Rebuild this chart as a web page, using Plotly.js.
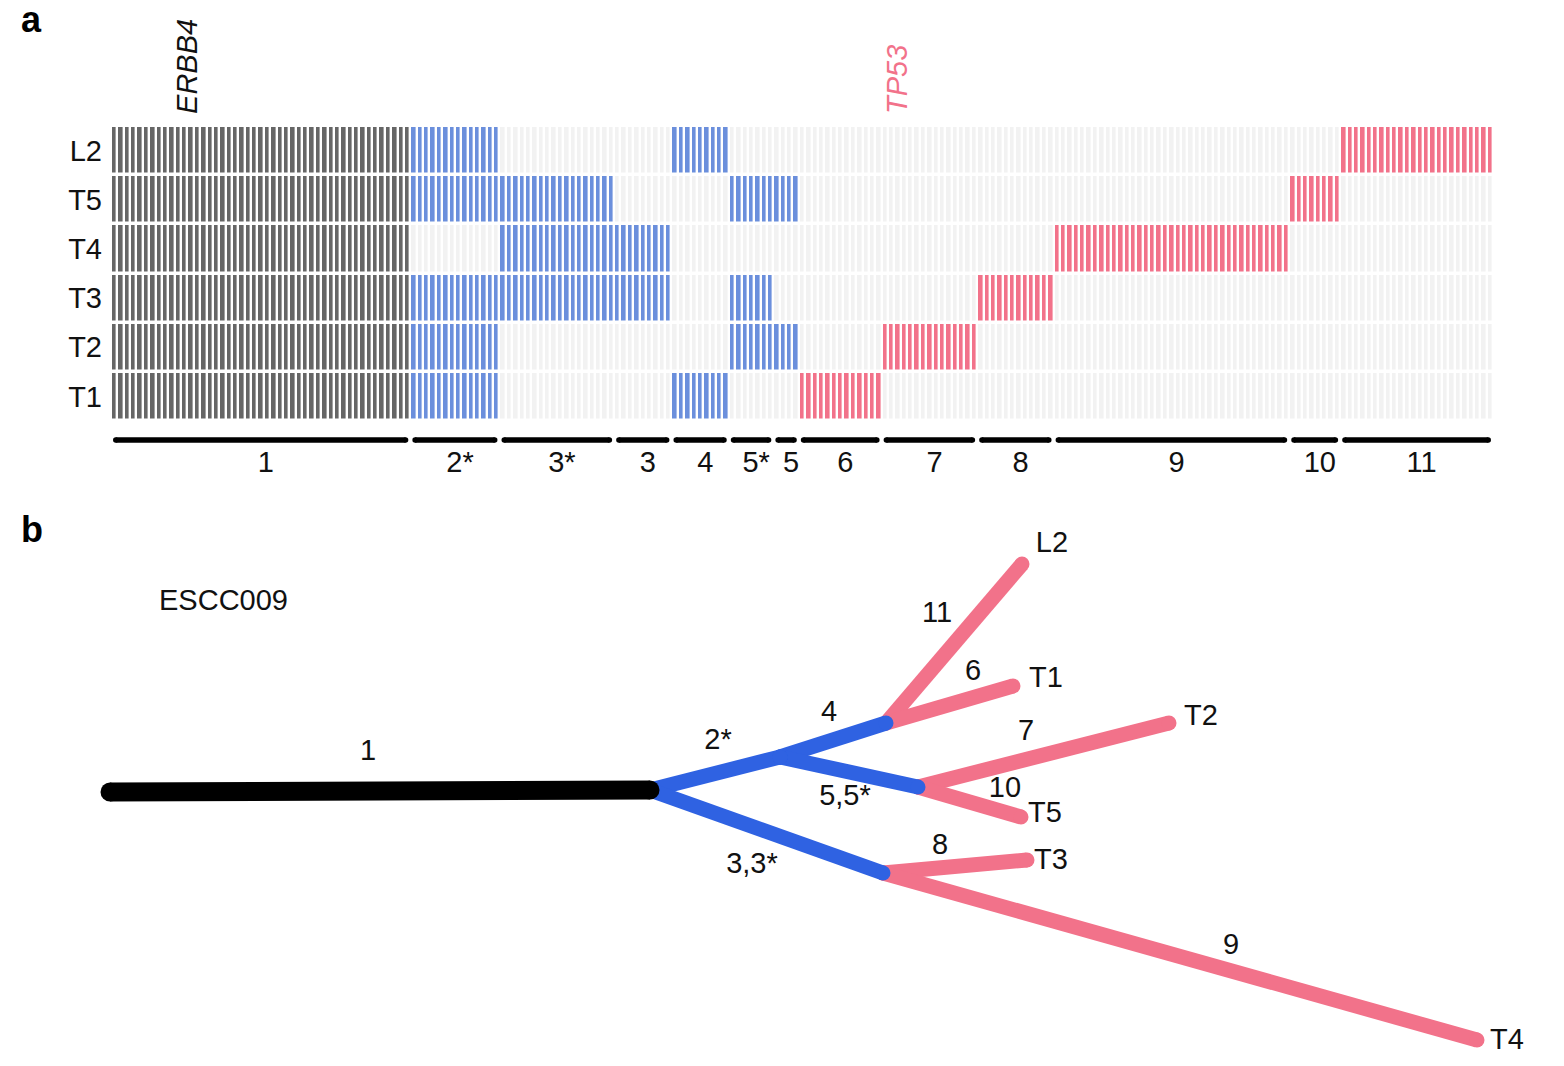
<!DOCTYPE html>
<html>
<head>
<meta charset="utf-8">
<script src="https://cdn.plot.ly/plotly-3.0.1.min.js"></script>
<style>html,body{margin:0;padding:0;background:#fff;}#chart{width:1564px;height:1066px;}</style>
</head>
<body>
<div id="chart"></div>
<script>
// ---------- DATA: panel a ----------
const samples = ['L2', 'T5', 'T4', 'T3', 'T2', 'T1'];
const groupNames = ['1', '2*', '3*', '3', '4', '5*', '5', '6', '7', '8', '9', '10', '11'];
const groupSizes = [47, 14, 18, 9, 9, 7, 4, 13, 15, 12, 37, 8, 24];
// 1 = trunk (grey), 2 = branch (blue), 3 = private (pink)
const groupClass = [1, 2, 2, 2, 2, 2, 2, 3, 3, 3, 3, 3, 3];
const sampleGroups = {
  L2: ['1', '2*', '4', '11'],
  T5: ['1', '2*', '3*', '5*', '5', '10'],
  T4: ['1', '3*', '3', '9'],
  T3: ['1', '2*', '3*', '3', '5*', '8'],
  T2: ['1', '2*', '5*', '5', '7'],
  T1: ['1', '2*', '4', '6']
};
const geneNames = ['ERBB4', 'TP53'];
const geneColumns = [11.5, 123];
const geneColors = ['#111111', '#f2728a'];

// ---------- DATA: panel b (tree) ----------
const patientId = 'ESCC009';
const nodeNames = ['root', 'n1', 'n2', 'n4', 'n5', 'n3', 'L2', 'T1', 'T2', 'T5', 'T3', 'T4'];
const nodeX = [110, 650, 780, 886, 918, 883, 1022, 1013, 1169, 1021, 1027, 1477];
const nodeY = [792, 790, 757, 723, 787, 873, 564, 686, 723, 817, 860, 1040];
const branchFrom = ['root', 'n1', 'n2', 'n2', 'n1', 'n4', 'n4', 'n5', 'n5', 'n3', 'n3'];
const branchTo = ['n1', 'n2', 'n4', 'n5', 'n3', 'L2', 'T1', 'T2', 'T5', 'T3', 'T4'];
const branchKind = ['trunk', 'branch', 'branch', 'branch', 'branch', 'private', 'private', 'private', 'private', 'private', 'private'];
const branchLabels = ['1', '2*', '4', '5,5*', '3,3*', '11', '6', '7', '10', '8', '9'];
const branchLabelX = [368, 718, 829, 845, 752, 937, 973, 1026, 1005, 940, 1231];
const branchLabelY = [753, 742, 714, 798, 866, 615, 673, 733, 790, 847, 947];
const leafNames = ['L2', 'T1', 'T2', 'T5', 'T3', 'T4'];
const leafLabelX = [1052, 1046, 1201, 1045, 1051, 1507];
const leafLabelY = [545, 680, 718, 815, 862, 1042];

// ---------- STYLE ----------
const FONT = 'Liberation Sans, Arial, Helvetica, sans-serif';
const FS = 29;
const heatColors = ['#f2f2f2', '#666666', '#6b8fdc', '#f2728a'];
const treeStyle = {
  trunk: {color: '#000000', width: 19},
  branch: {color: '#2f62e2', width: 15},
  private: {color: '#f2728a', width: 15}
};

// ---------- build heatmap ----------
const nCols = groupSizes.reduce((a, b) => a + b, 0);
const groupStart = [];
let acc = 0;
groupSizes.forEach(s => { groupStart.push(acc); acc += s; });
const colIdx = Array.from({length: nCols}, (_, i) => i);
const z = samples.map(s => {
  const row = [];
  groupNames.forEach((g, gi) => {
    const has = sampleGroups[s].includes(g);
    for (let k = 0; k < groupSizes[gi]; k++) row.push(has ? groupClass[gi] : 0);
  });
  return row;
});

const traces = [];
traces.push({
  type: 'heatmap', x: colIdx, y: samples, z: z,
  xaxis: 'x', yaxis: 'y',
  zmin: 0, zmax: 3,
  colorscale: [[0, heatColors[0]], [1/3, heatColors[1]], [2/3, heatColors[2]], [1, heatColors[3]]],
  showscale: false, xgap: 2.4, ygap: 3.5, hoverinfo: 'skip'
});

// group bars under heatmap (on a dedicated y axis y3 sharing the heatmap x axis)
const barX = [], barY = [];
groupSizes.forEach((s, gi) => {
  const a = groupStart[gi], b = groupStart[gi] + s - 1;
  barX.push(a + 0.25, b - 0.25, null);
  barY.push(1, 1, null);
});
traces.push({
  type: 'scatter', mode: 'lines+markers', x: barX, y: barY, xaxis: 'x', yaxis: 'y3',
  line: {color: '#000', width: 5.5}, marker: {color: '#000', size: 5.5, line: {width: 0}},
  hoverinfo: 'skip', cliponaxis: false, showlegend: false
});
traces.push({
  type: 'scatter', mode: 'text',
  x: groupSizes.map((s, gi) => groupStart[gi] + (s - 1) / 2 + 0.8),
  y: groupSizes.map(() => 0),
  text: groupNames, xaxis: 'x', yaxis: 'y3',
  textfont: {family: FONT, size: FS, color: '#111'},
  textposition: 'middle center', hoverinfo: 'skip', cliponaxis: false, showlegend: false
});

// ---------- build tree ----------
const nodeIndex = n => nodeNames.indexOf(n);
['private', 'branch', 'trunk'].forEach(kind => {
  const xs = [], ys = [];
  branchKind.forEach((k, i) => {
    if (k !== kind) return;
    const a = nodeIndex(branchFrom[i]), b = nodeIndex(branchTo[i]);
    xs.push(nodeX[a], nodeX[b], null);
    ys.push(nodeY[a], nodeY[b], null);
  });
  traces.push({
    type: 'scatter', mode: 'lines+markers', x: xs, y: ys, xaxis: 'x2', yaxis: 'y2',
    line: {color: treeStyle[kind].color, width: treeStyle[kind].width},
    marker: {color: treeStyle[kind].color, size: treeStyle[kind].width, line: {width: 0}},
    hoverinfo: 'skip', cliponaxis: false, showlegend: false
  });
});
traces.push({
  type: 'scatter', mode: 'text', x: branchLabelX, y: branchLabelY, text: branchLabels,
  xaxis: 'x2', yaxis: 'y2', textfont: {family: FONT, size: FS, color: '#111'},
  textposition: 'middle center', hoverinfo: 'skip', cliponaxis: false, showlegend: false
});
traces.push({
  type: 'scatter', mode: 'text', x: leafLabelX, y: leafLabelY, text: leafNames,
  xaxis: 'x2', yaxis: 'y2', textfont: {family: FONT, size: FS, color: '#111'},
  textposition: 'middle center', hoverinfo: 'skip', cliponaxis: false, showlegend: false
});

// ---------- layout ----------
const W = 1564, H = 1066;
const annotations = [
  {text: '<b>a</b>', xref: 'paper', yref: 'paper', x: 31 / W, y: 1 - 20 / H, xanchor: 'center', yanchor: 'middle',
   showarrow: false, font: {family: FONT, size: 36, color: '#000'}},
  {text: '<b>b</b>', xref: 'paper', yref: 'paper', x: 32 / W, y: 1 - 529 / H, xanchor: 'center', yanchor: 'middle',
   showarrow: false, font: {family: FONT, size: 36, color: '#000'}},
  {text: patientId, xref: 'paper', yref: 'paper', x: 223 / W, y: 1 - 600 / H, xanchor: 'center', yanchor: 'middle',
   showarrow: false, font: {family: FONT, size: FS, color: '#111'}}
];
geneNames.forEach((g, i) => {
  annotations.push({
    text: '<i>' + g + '</i>', xref: 'x', yref: 'paper', x: geneColumns[i], y: 1 - 116 / H,
    yanchor: 'bottom', xanchor: 'center', textangle: -90, showarrow: false,
    font: {family: FONT, size: FS, color: geneColors[i]}
  });
});

const layout = {
  width: W, height: H,
  margin: {l: 0, r: 0, t: 0, b: 0},
  paper_bgcolor: '#ffffff', plot_bgcolor: 'rgba(0,0,0,0)',
  showlegend: false,
  xaxis: {domain: [111 / W, 1493 / W], range: [-0.5, nCols - 0.5], showgrid: false, zeroline: false,
          showticklabels: false, ticks: '', showline: false, anchor: 'y', fixedrange: true},
  yaxis: {domain: [1 - 421 / H, 1 - 126 / H], type: 'category', autorange: 'reversed', showgrid: false,
          zeroline: false, ticks: '', showline: false, anchor: 'x', ticklabelstandoff: 8,
          tickfont: {family: FONT, size: FS, color: '#111'}, fixedrange: true},
  yaxis3: {domain: [1 - 470 / H, 1 - 435 / H], range: [-0.2, 1.2], visible: false, anchor: 'x', fixedrange: true},
  xaxis2: {domain: [0, 1], range: [0, W], visible: false, anchor: 'y2', fixedrange: true},
  yaxis2: {domain: [0, 1], range: [H, 0], visible: false, anchor: 'x2', fixedrange: true},
  annotations: annotations
};

Plotly.newPlot('chart', traces, layout, {displayModeBar: false, staticPlot: true});
</script>
</body>
</html>
